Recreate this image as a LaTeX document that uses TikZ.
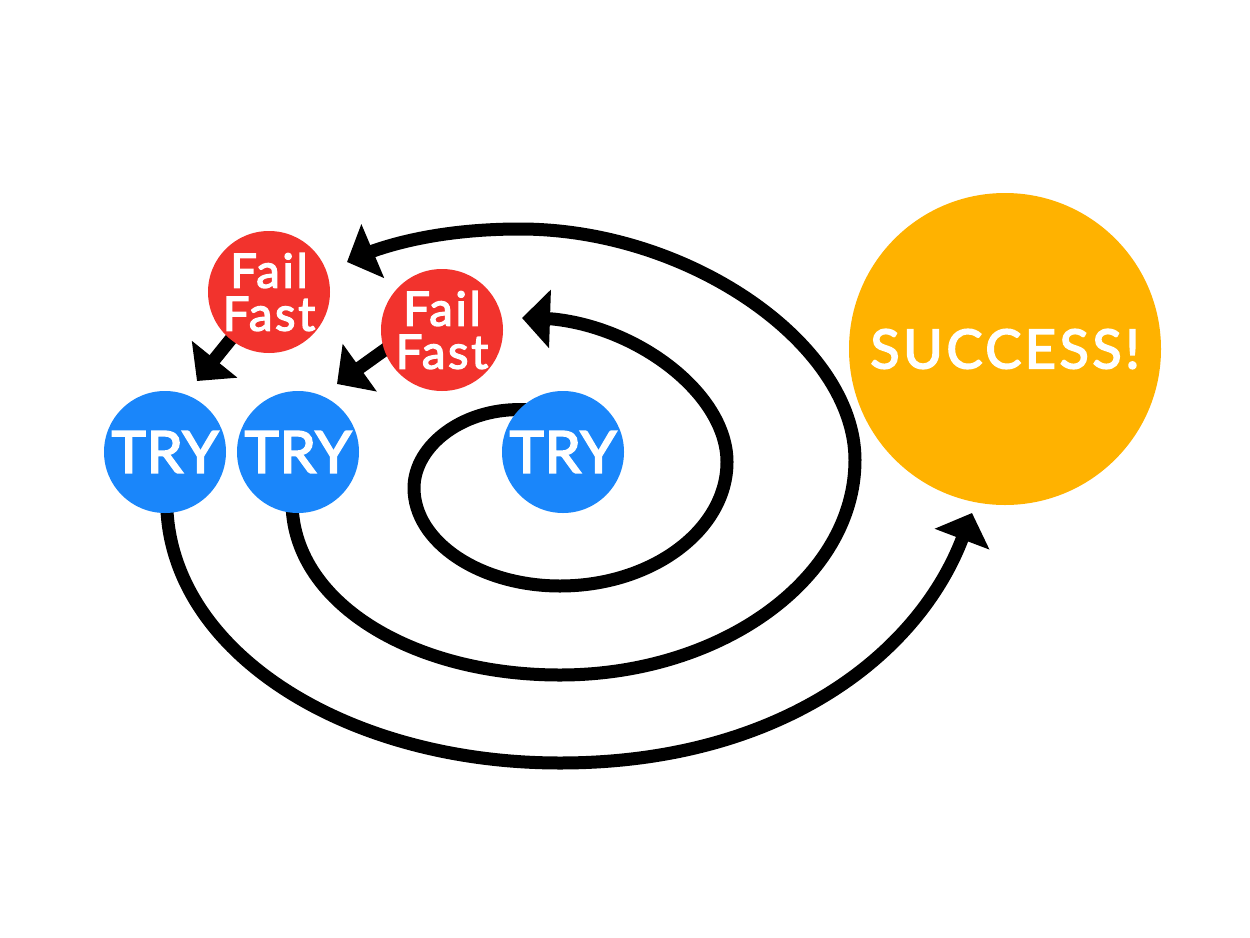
\documentclass[tikz,border=0pt]{standalone}
\usepackage{fontspec}
\setmainfont{Lato}
\newfontfamily\diagfont{Lato}[FakeBold=3]
\usetikzlibrary{arrows.meta,calc}
\pgfdeclarelayer{background}
\pgfsetlayers{background,main}
\definecolor{tryblue}{RGB}{26,134,250}
\definecolor{failred}{RGB}{242,51,45}
\definecolor{successorange}{RGB}{255,178,0}
\begin{document}
\begin{tikzpicture}[x=1pt,y=-1pt,
  bubble/.style={circle, inner sep=0pt, text=white},
  trynode/.style={bubble, fill=tryblue, minimum size=122pt,
     font=\diagfont\fontsize{58}{60}\selectfont\addfontfeatures{LetterSpace=1.5}},
  failnode/.style={bubble, fill=failred, minimum size=122pt, align=center,
     font=\diagfont\fontsize{47}{43}\selectfont\addfontfeatures{LetterSpace=6}},
  successnode/.style={bubble, fill=successorange, minimum size=312pt,
     font=\diagfont\fontsize{54}{56}\selectfont\addfontfeatures{LetterSpace=6.5}},
  loopline/.style={line width=13pt, line join=round, -{Triangle[length=28pt,width=57pt]}}
]
\useasboundingbox (0,0) rectangle (1250,937);
\begin{pgfonlayer}{background}
  \fill[white] (0,0) rectangle (1250,937);
\end{pgfonlayer}

% nodes
\node[trynode] (t1) at (165,452) {TRY};
\node[trynode] (t2) at (298,452) {TRY};
\node[trynode] (t3) at (563,452) {TRY};
\node[failnode] (f1) at (269,292) {Fail\\Fast};
\node[failnode] (f2) at (442,330) {Fail\\Fast};
\node[successnode] (s) at (1005,349) {SUCCESS!};

% arrow tips
\coordinate (tipA) at (522,318);
\coordinate (tipB) at (347,262);
\coordinate (tipC) at (337,384);
\coordinate (tipD) at (197,381);
\coordinate (tipE) at (972,513);

\begin{pgfonlayer}{background}
  % inner loop: TRY 3 -> Fail Fast 2
  \draw[loopline] ($(t3.center)!0.9!(t3.130)$)
     .. controls (465,406) and (414,445) .. (414,488)
     .. controls (414,542) and (480,586) .. (560,586)
     .. controls (652,586) and (727,530) .. (727,462)
     .. controls (727,395) and (640,328) .. (553,319) -- (tipA);
  % Fail Fast 2 -> TRY 2
  \draw[loopline] ($(f2.center)!0.8!(f2.195)$) -- (tipC);
  % middle loop: TRY 2 -> Fail Fast 1
  \draw[loopline] ($(t2.center)!0.8!(t2.-97)$)
     .. controls (291,602) and (412,675) .. (560,675)
     .. controls (722,675) and (855,578) .. (855,460)
     .. controls (855,345) and (690,229) .. (520,229)
     .. controls (460,229) and (410,238) .. (373,251) -- (tipB);
  % Fail Fast 1 -> TRY 1
  \draw[loopline] (f1.center) -- (tipD);
  % outer loop: TRY 1 -> SUCCESS
  \draw[loopline] ($(t1.center)!0.8!(t1.-88)$)
     .. controls (167,650) and (344,763) .. (560,763)
     .. controls (780,763) and (918,655) .. (tipE);
\end{pgfonlayer}
\end{tikzpicture}
\end{document}
